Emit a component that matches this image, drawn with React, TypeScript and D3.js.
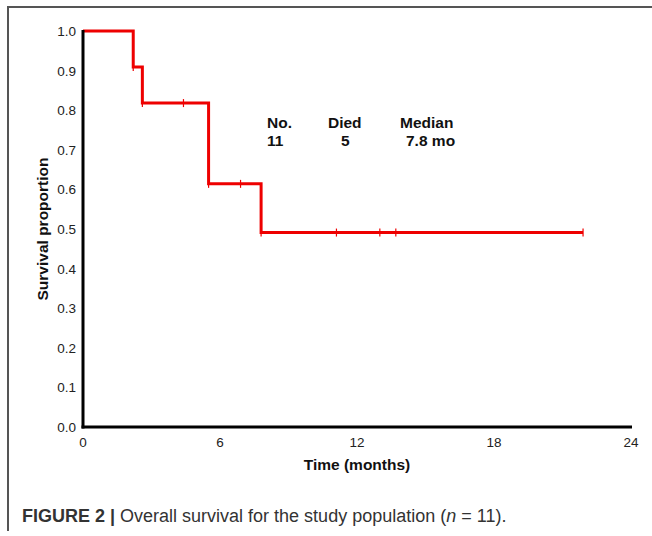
import { useEffect, useRef } from 'react';
import * as d3 from 'd3';

// Kaplan-Meier steps (months, survival proportion)
const times = [0, 2.2, 2.6, 4.4, 5.5, 5.5, 6.9, 7.8, 11.1, 13.0, 13.7, 21.9];
const survival = [1.0, 0.909, 0.818, 0.818, 0.716, 0.614, 0.614, 0.491, 0.491, 0.491, 0.491, 0.491];
const xTicks = [0, 6, 12, 18, 24];
const yTicks = [0, 0.1, 0.2, 0.3, 0.4, 0.5, 0.6, 0.7, 0.8, 0.9, 1.0];
const statsHeaders = ['No.', 'Died', 'Median'];
const statsValues = ['11', '5', '7.8 mo'];

const App = () => {
  const ref = useRef<SVGSVGElement>(null);

  useEffect(() => {
    const svg = d3.select(ref.current);
    svg.selectAll('*').remove();

    const x = d3.scaleLinear().domain([0, 24]).range([83, 631]);
    const y = d3.scaleLinear().domain([0, 1]).range([427, 31]);

    // frame
    svg.append('path')
      .attr('d', 'M8,531 L8,7 L652,7')
      .attr('fill', 'none')
      .attr('stroke', '#555')
      .attr('stroke-width', 2);

    const pts = times.map((t, i) => [t, survival[i]] as [number, number]);

    const line = d3.line<[number, number]>()
      .x(d => x(d[0]))
      .y(d => y(d[1]))
      .curve(d3.curveStepAfter);

    svg.append('path')
      .datum(pts)
      .attr('d', line)
      .attr('fill', 'none')
      .attr('stroke', '#ee0000')
      .attr('stroke-width', 3);

    // marks
    svg.selectAll('.mark')
      .data(pts.slice(1))
      .enter()
      .append('line')
      .attr('class', 'mark')
      .attr('x1', d => x(d[0]))
      .attr('x2', d => x(d[0]))
      .attr('y1', d => y(d[1]) - 4)
      .attr('y2', d => y(d[1]) + 4)
      .attr('stroke', '#ee0000')
      .attr('stroke-width', 1.2);

    // axes
    svg.append('line')
      .attr('x1', x(0)).attr('x2', x(0))
      .attr('y1', y(1) - 1).attr('y2', y(0) + 1.5)
      .attr('stroke', '#000').attr('stroke-width', 3);
    svg.append('line')
      .attr('x1', x(0) - 1.5).attr('x2', x(24) + 1)
      .attr('y1', y(0)).attr('y2', y(0))
      .attr('stroke', '#000').attr('stroke-width', 3);

    svg.selectAll('.ytick')
      .data(yTicks)
      .enter()
      .append('text')
      .attr('class', 'ytick')
      .attr('x', 76)
      .attr('y', d => y(d) + 5)
      .attr('text-anchor', 'end')
      .style('font', '13.5px "Liberation Sans", Arial, sans-serif')
      .attr('fill', '#222')
      .text(d => d.toFixed(1));

    svg.selectAll('.xtick')
      .data(xTicks)
      .enter()
      .append('text')
      .attr('class', 'xtick')
      .attr('x', d => x(d))
      .attr('y', 447)
      .attr('text-anchor', 'middle')
      .style('font', '13.5px "Liberation Sans", Arial, sans-serif')
      .attr('fill', '#222')
      .text(d => d);

    svg.append('text')
      .attr('transform', 'translate(48,229) rotate(-90)')
      .attr('text-anchor', 'middle')
      .style('font', 'bold 15.5px "Liberation Sans", Arial, sans-serif')
      .attr('fill', '#111')
      .text('Survival proportion');

    svg.append('text')
      .attr('x', 357)
      .attr('y', 470)
      .attr('text-anchor', 'middle')
      .style('font', 'bold 15.5px "Liberation Sans", Arial, sans-serif')
      .attr('fill', '#111')
      .text('Time (months)');

    // stats table
    const headX = [267, 328, 400];
    const valX = [267, 341, 406];
    statsHeaders.forEach((h, i) => {
      svg.append('text')
        .attr('x', headX[i]).attr('y', 128)
        .style('font', 'bold 15.5px "Liberation Sans", Arial, sans-serif')
        .attr('fill', '#111')
        .text(h);
      svg.append('text')
        .attr('x', valX[i]).attr('y', 146)
        .style('font', 'bold 15.5px "Liberation Sans", Arial, sans-serif')
        .attr('fill', '#111')
        .text(statsValues[i]);
    });

    // caption
    const cap = svg.append('text')
      .attr('x', 22)
      .attr('y', 522)
      .style('font', '18px "Liberation Sans", Arial, sans-serif')
      .attr('fill', '#333');
    cap.append('tspan').style('font-weight', 'bold').text('FIGURE 2 | ');
    cap.append('tspan').text('Overall survival for the study population (');
    cap.append('tspan').style('font-style', 'italic').text('n');
    cap.append('tspan').text(' = 11).');
  }, []);

  return (
    <svg
      ref={ref}
      width={652}
      height={536}
      style={{ position: 'absolute', left: 0, top: 0, background: '#fff' }}
    />
  );
};

export default App;
